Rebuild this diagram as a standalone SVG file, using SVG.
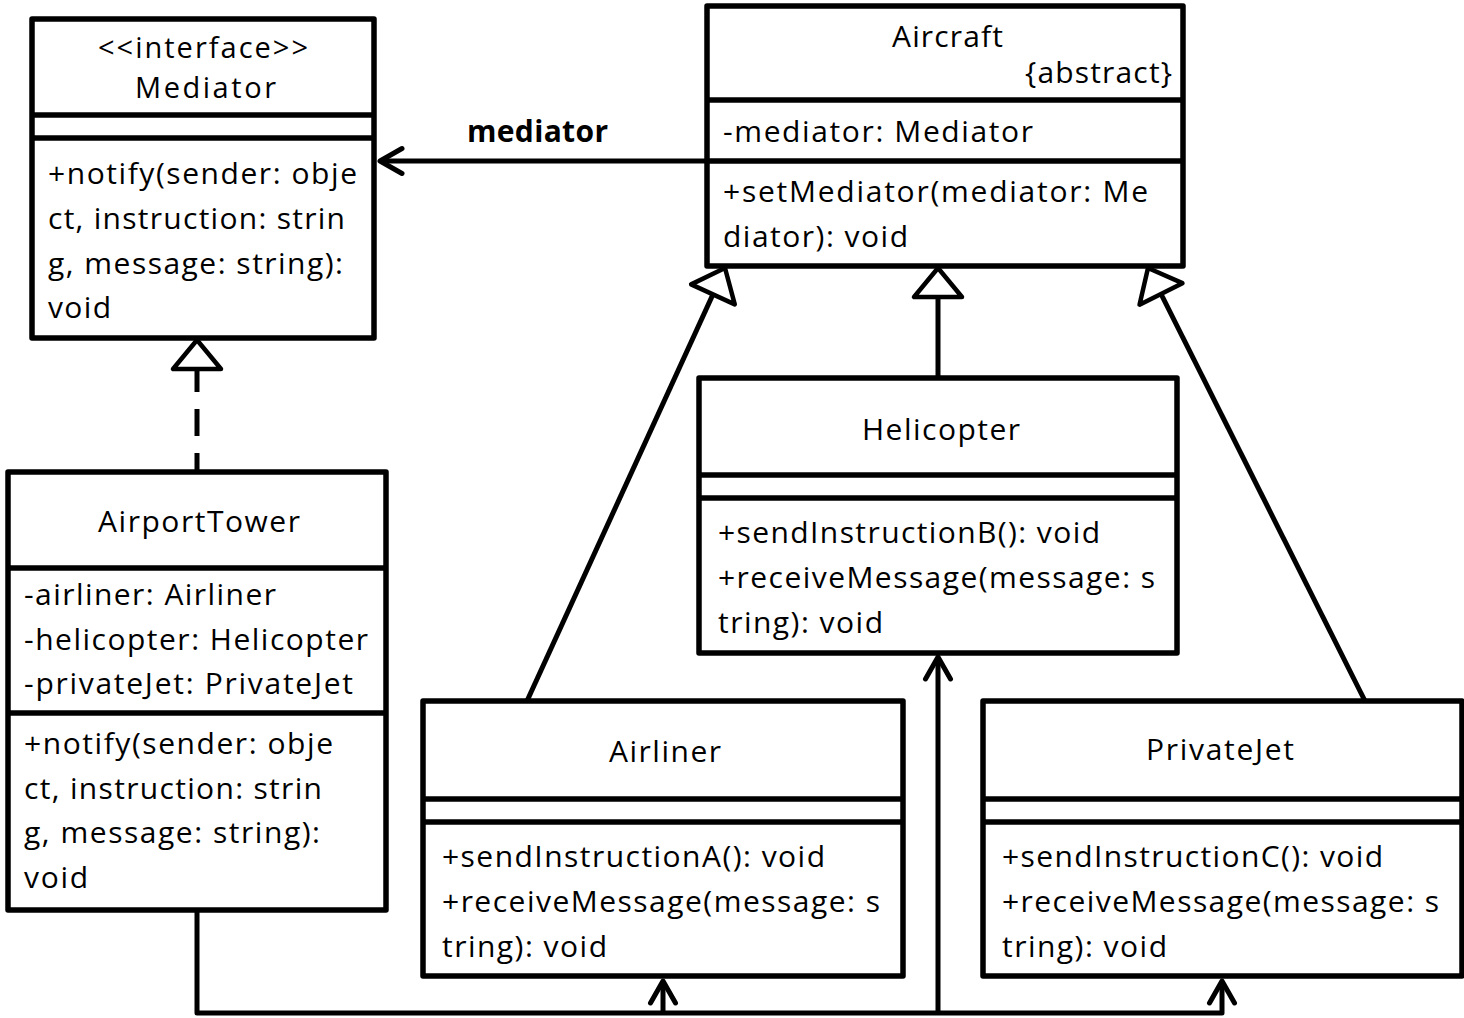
<svg xmlns="http://www.w3.org/2000/svg" width="1464" height="1018" viewBox="0 0 1464 1018">
<style>
.box{fill:#fff;stroke:#000;stroke-width:5.5;stroke-linejoin:round}
.sep{stroke:#000;stroke-width:5.5}
.t{font-family:'Open Sans','Liberation Sans',sans-serif;font-size:30px;fill:#000}
.s{font-size:29px}
.b{font-weight:bold}
.ln{fill:none;stroke:#000;stroke-width:5}
.dash{stroke-dasharray:27 17;stroke-dashoffset:8}
</style>
<defs>
<marker id="tri" markerUnits="userSpaceOnUse" viewBox="-36 -30 42 60" refX="0" refY="0" markerWidth="42" markerHeight="60" orient="auto" overflow="visible">
<path d="M0,0 L-29,-24 L-29,24 Z" fill="#fff" stroke="#000" stroke-width="4.5" stroke-linejoin="round"/>
</marker>
<marker id="open" markerUnits="userSpaceOnUse" viewBox="-28 -18 32 36" refX="0" refY="0" markerWidth="32" markerHeight="36" orient="auto" overflow="visible">
<path d="M-22,-12.5 L0,0 L-22,12.5" fill="none" stroke="#000" stroke-width="5" stroke-linecap="round" stroke-linejoin="round"/>
</marker>
</defs>
<rect width="1464" height="1018" fill="#fff"/>

<g id="mediator">
<rect class="box" x="32" y="19" width="342" height="319"/>
<line class="sep" x1="32" y1="115" x2="374" y2="115"/>
<line class="sep" x1="32" y1="138" x2="374" y2="138"/>
<text class="t s" x="98" y="58" textLength="210">&lt;&lt;interface&gt;&gt;</text>
<text class="t s" x="135" y="98" textLength="141">Mediator</text>
<text class="t" x="48" y="184" textLength="309">+notify(sender: obje</text>
<text class="t" x="48" y="229" textLength="297">ct, instruction: strin</text>
<text class="t" x="48" y="274" textLength="295">g, message: string):</text>
<text class="t" x="48" y="318" textLength="63">void</text>
</g>

<g id="aircraft">
<rect class="box" x="707" y="6" width="476" height="260"/>
<line class="sep" x1="707" y1="100" x2="1183" y2="100"/>
<line class="sep" x1="707" y1="161" x2="1181" y2="161"/>
<text class="t" x="892" y="47" textLength="111">Aircraft</text>
<text class="t" x="1025" y="83" textLength="147">{abstract}</text>
<text class="t" x="723" y="142" textLength="310">-mediator: Mediator</text>
<text class="t" x="723" y="202" textLength="425">+setMediator(mediator: Me</text>
<text class="t" x="723" y="247" textLength="185">diator): void</text>
</g>

<g id="airporttower">
<rect class="box" x="8" y="472" width="378" height="438"/>
<line class="sep" x1="8" y1="568" x2="386" y2="568"/>
<line class="sep" x1="8" y1="713" x2="386" y2="713"/>
<text class="t" x="98" y="532" textLength="202">AirportTower</text>
<text class="t" x="24" y="605" textLength="252">-airliner: Airliner</text>
<text class="t" x="24" y="650" textLength="344">-helicopter: Helicopter</text>
<text class="t" x="24" y="694" textLength="329">-privateJet: PrivateJet</text>
<text class="t" x="24" y="754" textLength="309">+notify(sender: obje</text>
<text class="t" x="24" y="799" textLength="298">ct, instruction: strin</text>
<text class="t" x="24" y="843" textLength="296">g, message: string):</text>
<text class="t" x="24" y="888" textLength="64">void</text>
</g>

<g id="helicopter">
<rect class="box" x="699" y="378" width="478" height="275"/>
<line class="sep" x1="699" y1="475" x2="1177" y2="475"/>
<line class="sep" x1="699" y1="498" x2="1175" y2="498"/>
<text class="t" x="862" y="440" textLength="158">Helicopter</text>
<text class="t" x="718" y="543" textLength="382">+sendInstructionB(): void</text>
<text class="t" x="718" y="588" textLength="437">+receiveMessage(message: s</text>
<text class="t" x="718" y="633" textLength="165">tring): void</text>
</g>

<g id="airliner">
<rect class="box" x="423" y="701" width="480" height="275"/>
<line class="sep" x1="423" y1="799" x2="903" y2="799"/>
<line class="sep" x1="423" y1="822" x2="901" y2="822"/>
<text class="t" x="609" y="762" textLength="112">Airliner</text>
<text class="t" x="442" y="867" textLength="383">+sendInstructionA(): void</text>
<text class="t" x="442" y="912" textLength="438">+receiveMessage(message: s</text>
<text class="t" x="442" y="957" textLength="165">tring): void</text>
</g>

<g id="privatejet">
<rect class="box" x="983" y="701" width="479" height="275"/>
<line class="sep" x1="983" y1="799" x2="1462" y2="799"/>
<line class="sep" x1="983" y1="822" x2="1460" y2="822"/>
<text class="t" x="1146" y="760" textLength="148">PrivateJet</text>
<text class="t" x="1002" y="867" textLength="381">+sendInstructionC(): void</text>
<text class="t" x="1002" y="912" textLength="437">+receiveMessage(message: s</text>
<text class="t" x="1002" y="957" textLength="165">tring): void</text>
</g>

<g id="connectors">
<path class="ln" d="M707,161 L380,161" marker-end="url(#open)"/>
<text class="t b" x="467" y="142" textLength="141">mediator</text>
<path class="ln dash" d="M197,472 L197,340" marker-end="url(#tri)"/>
<path class="ln" d="M527,701 L725,268" marker-end="url(#tri)"/>
<path class="ln" d="M938,378 L938,268" marker-end="url(#tri)"/>
<path class="ln" d="M1365,701 L1148,268" marker-end="url(#tri)"/>
<path class="ln" d="M197,910 L197,1013 L938,1013" stroke-linejoin="round"/>
<path class="ln" d="M938,1013 L1222,1013 L1222,981" stroke-linejoin="round" marker-end="url(#open)"/>
<path class="ln" d="M663,1013 L663,981" marker-end="url(#open)"/>
<path class="ln" d="M938,1013 L938,657" marker-end="url(#open)"/>
</g>
</svg>
